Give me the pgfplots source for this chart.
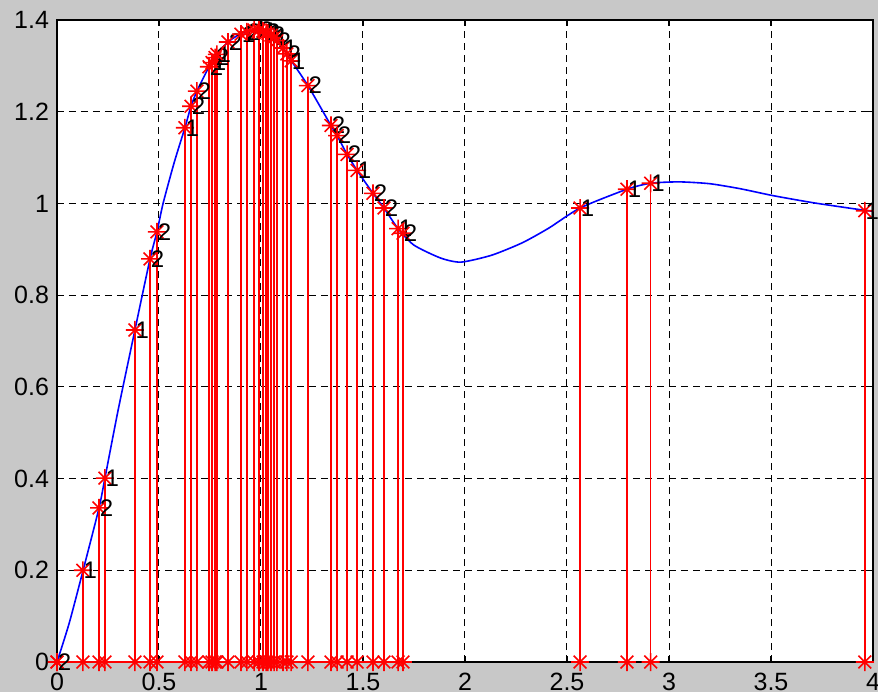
\documentclass[border=0pt]{standalone}
\usepackage{pgfplots}
\pgfplotsset{compat=1.18}
\usepackage{fontspec}
\setmainfont{Liberation Sans}
\definecolor{bg}{RGB}{200,200,200}
\pgfdeclareplotmark{mstar}{%
  \pgfpathmoveto{\pgfqpoint{-\pgfplotmarksize}{0pt}}\pgfpathlineto{\pgfqpoint{\pgfplotmarksize}{0pt}}%
  \pgfpathmoveto{\pgfqpoint{0pt}{-\pgfplotmarksize}}\pgfpathlineto{\pgfqpoint{0pt}{\pgfplotmarksize}}%
  \pgfpathmoveto{\pgfqpoint{-0.707\pgfplotmarksize}{-0.707\pgfplotmarksize}}\pgfpathlineto{\pgfqpoint{0.707\pgfplotmarksize}{0.707\pgfplotmarksize}}%
  \pgfpathmoveto{\pgfqpoint{-0.707\pgfplotmarksize}{0.707\pgfplotmarksize}}\pgfpathlineto{\pgfqpoint{0.707\pgfplotmarksize}{-0.707\pgfplotmarksize}}%
  \pgfusepathqstroke}
\begin{document}
\begin{tikzpicture}
\fill[bg] (-28.5pt,-15pt) rectangle (410.5pt,331pt);
\begin{axis}[
  scale only axis, width=408pt, height=321pt,
  xmin=0, xmax=4, ymin=0, ymax=1.4,
  xtick={0,0.5,...,4}, ytick={0,0.2,...,1.4},
  axis background/.style={fill=white},
  axis line style={black, line width=0.6pt},
  tick align=inside, major tick length=3pt,
  tick style={black, line width=0.6pt},
  grid=major,
  grid style={black, dash pattern=on 3.5pt off 2.5pt, line width=0.5pt},
  /pgf/number format/assume math mode=true,
  ticklabel style={font=\fontsize{12.5}{13}\selectfont},
  yticklabel style={xshift=-0.5pt},
  xticklabel style={yshift=-2pt},
  clip=false,
]
\addplot[blue, line width=0.8pt, smooth, tension=0.4] table {
t y
0 0
0.06 0.085
0.128 0.2
0.206 0.336
0.235 0.401
0.30 0.55
0.382 0.724
0.456 0.879
0.49 0.938
0.52 1.0
0.575 1.09
0.627 1.165
0.657 1.212
0.686 1.245
0.745 1.298
0.784 1.325
0.838 1.352
0.90 1.37
0.96 1.378
1.0 1.378
1.05 1.367
1.1 1.343
1.15 1.31
1.23 1.257
1.343 1.17
1.373 1.148
1.422 1.107
1.471 1.072
1.549 1.022
1.603 0.99
1.672 0.945
1.75 0.909
1.88 0.881
1.98 0.872
2.13 0.887
2.28 0.914
2.41 0.946
2.564 0.99
2.794 1.031
2.91 1.044
3.05 1.047
3.2 1.043
3.35 1.032
3.51 1.017
3.70 1.002
3.85 0.992
3.96 0.985
4.0 0.983
};
\addplot[red, line width=0.8pt, mark=mstar, mark size=4.5pt] table {
t y
0 0
0.127 0
0.206 0
0.235 0
0.382 0
0.456 0
0.49 0
0.627 0
0.657 0
0.686 0
0.745 0
0.76 0
0.775 0
0.784 0
0.838 0
0.902 0
0.931 0
0.966 0
0.99 0
1.01 0
1.025 0
1.034 0
1.049 0
1.064 0
1.078 0
1.108 0
1.127 0
1.148 0
1.23 0
1.343 0
1.373 0
1.422 0
1.471 0
1.549 0
1.603 0
1.672 0
1.696 0
};
\addplot[red, line width=0.8pt, only marks, mark=mstar, mark size=4.5pt] table {
t y
2.564 0
2.794 0
2.91 0
3.96 0
};
\addplot[red, line width=0.8pt, ycomb, mark=mstar, mark size=4.5pt,
  point meta=explicit symbolic, nodes near coords,
  every node near coord/.append style={anchor=west, inner sep=0pt, text=black, font=\fontsize{12}{12}\selectfont}]
  table[meta=l] {
t y l
0 0 2
0.127 0.2 1
0.206 0.336 2
0.235 0.401 1
0.382 0.724 1
0.456 0.879 2
0.49 0.938 2
0.627 1.165 1
0.657 1.212 2
0.686 1.245 2
0.745 1.298 2
0.76 1.307 1
0.775 1.318 2
0.784 1.325 1
0.838 1.352 2
0.902 1.369 1
0.931 1.374 2
0.966 1.378 1
0.99 1.378 2
1.01 1.376 1
1.025 1.373 2
1.034 1.371 1
1.049 1.367 2
1.064 1.362 1
1.078 1.355 2
1.108 1.339 1
1.127 1.326 2
1.148 1.311 1
1.23 1.257 2
1.343 1.17 2
1.373 1.148 2
1.422 1.107 2
1.471 1.072 1
1.549 1.022 2
1.603 0.99 2
1.672 0.945 1
1.696 0.935 2
2.564 0.99 1
2.794 1.031 1
2.91 1.044 1
3.96 0.984 1
};
\end{axis}
\pgfresetboundingbox
\useasboundingbox (-28.5pt,-15pt) rectangle (410.5pt,331pt);
\end{tikzpicture}
\end{document}
